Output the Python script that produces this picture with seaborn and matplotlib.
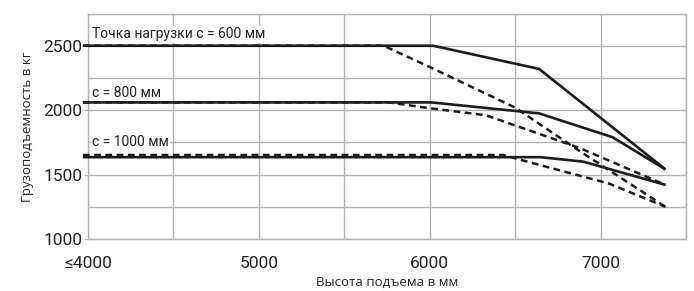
import matplotlib
matplotlib.use("Agg")
import matplotlib.pyplot as plt
import seaborn as sns
import pandas as pd

# Lifting height (mm) and capacity (kg)
x_600_solid = [3970, 6020, 6640, 7380]
y_600_solid = [2500, 2500, 2320, 1540]
x_600_dash = [3970, 5730, 6000, 6500, 6880, 7380]
y_600_dash = [2500, 2500, 2335, 2020, 1680, 1250]

x_800_solid = [3970, 6010, 6640, 7070, 7380]
y_800_solid = [2060, 2060, 1975, 1790, 1540]
x_800_dash = [3970, 5760, 6000, 6330, 6880, 7380]
y_800_dash = [2060, 2060, 2015, 1960, 1705, 1420]

x_1000_solid = [3970, 6650, 6900, 7380]
y_1000_solid = [1635, 1635, 1600, 1420]
x_1000_dash = [3970, 6430, 6600, 7050, 7380]
y_1000_dash = [1652, 1652, 1590, 1430, 1250]

series = [
    ("c600", "solid", x_600_solid, y_600_solid),
    ("c600", "dash", x_600_dash, y_600_dash),
    ("c800", "solid", x_800_solid, y_800_solid),
    ("c800", "dash", x_800_dash, y_800_dash),
    ("c1000", "solid", x_1000_solid, y_1000_solid),
    ("c1000", "dash", x_1000_dash, y_1000_dash),
]

labels = ["Точка нагрузки c = 600 мм", "c = 800 мм", "c = 1000 мм"]
label_y = [2590, 2136, 1752]
label_x = 4023

x_ticks = [4000, 5000, 6000, 7000]
x_ticklabels = ["≤4000", "5000", "6000", "7000"]
y_ticks = [1000, 1500, 2000, 2500]

sns.set_theme(style="white")
plt.rcParams["font.family"] = ["Roboto", "DejaVu Sans"]

fig = plt.figure(figsize=(6.94, 2.91), dpi=100)
ax = fig.add_axes([88 / 694, 52 / 291, 598 / 694, 225.5 / 291])

line_color = "#1c1c1c"
grid_color = "#b3b3b3"

for name, kind, xs, ys in series:
    df = pd.DataFrame({"x": xs, "y": ys})
    if kind == "solid":
        sns.lineplot(data=df, x="x", y="y", ax=ax, color=line_color, lw=1.9,
                     sort=False, estimator=None, clip_on=False, zorder=4,
                     solid_capstyle="butt")
    else:
        sns.lineplot(data=df, x="x", y="y", ax=ax, color=line_color, lw=1.8,
                     sort=False, estimator=None, clip_on=False, zorder=5,
                     dashes=False, linestyle=(0, (2.7, 1.8)))

ax.set_xlim(4000, 7500)
ax.set_ylim(1000, 2750)
ax.set_xticks(x_ticks)
ax.set_xticklabels(x_ticklabels)
ax.set_xticks([4500, 5500, 6500, 7500], minor=True)
ax.set_yticks(y_ticks)
ax.set_yticks([1250, 1750, 2250, 2750], minor=True)
ax.grid(True, which="both", color=grid_color, lw=1.0)
ax.set_axisbelow(True)
for sp in ax.spines.values():
    sp.set_color(grid_color)
    sp.set_linewidth(1.0)

ax.tick_params(axis="x", which="both", length=0, pad=12, labelsize=12.5,
               colors="#222222")
ax.tick_params(axis="y", which="major", length=3, width=1.0, color=grid_color,
               pad=1, labelsize=12.5, labelcolor="#222222", left=True)
ax.tick_params(axis="y", which="minor", length=0)

ax.set_xlabel("Высота подъема в мм", fontsize=9.5, color="#222222",
              family=["Open Sans", "DejaVu Sans"], labelpad=4)
ax.set_ylabel("Грузоподъемность в кг", fontsize=9.5, color="#222222",
              family=["Open Sans", "DejaVu Sans"], labelpad=7)

for txt, ty in zip(labels, label_y):
    ax.text(label_x, ty, txt, ha="left", va="center", fontsize=10,
            color="#222222", zorder=6,
            bbox=dict(facecolor="white", edgecolor="none", pad=1.0))

fig.savefig("out.png", dpi=100)
